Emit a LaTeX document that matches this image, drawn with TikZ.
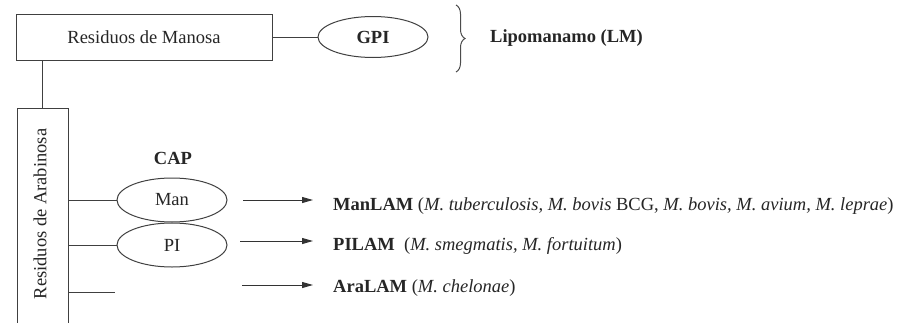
\documentclass[tikz,border=0pt]{standalone}
\usepackage{fontspec}
\setmainfont{Liberation Serif}
\usetikzlibrary{arrows.meta,decorations.pathreplacing,shapes.geometric}
\begin{document}
\begin{tikzpicture}[x=1pt,y=-1pt,
  ln/.style={draw=black!75, line width=1pt},
  arr/.style={draw=black!80, line width=1pt, -{Triangle[length=11pt,width=6pt]}},
  boxnode/.style={draw=black!75, line width=1pt, rectangle, inner sep=0pt},
  ell/.style={ellipse, draw=black!75, line width=1pt, minimum width=110pt, minimum height=44pt, inner sep=0pt},
  txt/.style={font=\fontsize{18.5}{22}\selectfont, text=black!85},
  btxt/.style={font=\fontsize{18.5}{22}\selectfont\bfseries, text=black!85},
  brc/.style={draw=black!70, line width=1pt, decorate, decoration={brace, amplitude=9pt}}
]
\useasboundingbox (0,0) rectangle (903,322);
\clip (0,0) rectangle (903,322);
\fill[white] (0,0) rectangle (903,322);

% top row
\node[boxnode, txt, minimum width=256pt, minimum height=46pt] (manosa) at (144,37) {Residuos de Manosa};
\node[ell, btxt, minimum height=41pt] (gpi) at (373,37) {GPI};
\draw[ln] (manosa.east) -- (gpi.west);
\coordinate (bt) at (456,5);
\coordinate (bb) at (456,72);
\draw[brc] (bt) -- (bb);
\node[btxt, anchor=west, inner sep=0pt] (lm) at (490,38) {Lipomanamo (LM)};

% arabinosa column
\node[boxnode, minimum width=51pt, minimum height=240pt] (arab) at (42.5,228) {};
\node[txt, rotate=90] (arabtxt) at (40,214) {Residuos de Arabinosa};
\draw[ln] (arab.north |- manosa.south) -- (arab.north);

% CAP
\node[btxt] (cap) at (173,158) {CAP};
\node[ell, txt] (man) at (172,200) {Man};
\node[ell, txt] (pi) at (172,245) {PI};
\draw[ln] (arab.east |- man.west) -- (man.west);
\draw[ln] (arab.east |- pi.west) -- (pi.west);
\coordinate (araend) at (115,292);
\draw[ln] (arab.east |- araend) -- (araend);

% results
\node[txt, anchor=base west, inner sep=0pt] (manlam) at (333,210)
  {\textbf{ManLAM} (\textit{M. tuberculosis, M. bovis} BCG, \textit{M. bovis, M. avium, M. leprae})};
\node[txt, anchor=base west, inner sep=0pt] (pilam) at (333,250)
  {\textbf{PILAM}\ \ (\textit{M. smegmatis, M. fortuitum})};
\node[txt, anchor=base west, inner sep=0pt] (aralam) at (333,292)
  {\textbf{AraLAM} (\textit{M. chelonae})};

\coordinate (a1) at (243,200);
\coordinate (a2) at (240,241);
\coordinate (a3) at (242,285);
\draw[arr, shorten >=20pt] (a1) -- (a1 -| manlam.west);
\draw[arr, shorten >=20pt] (a2) -- (a2 -| pilam.west);
\draw[arr, shorten >=20pt] (a3) -- (a3 -| aralam.west);
\end{tikzpicture}
\end{document}
